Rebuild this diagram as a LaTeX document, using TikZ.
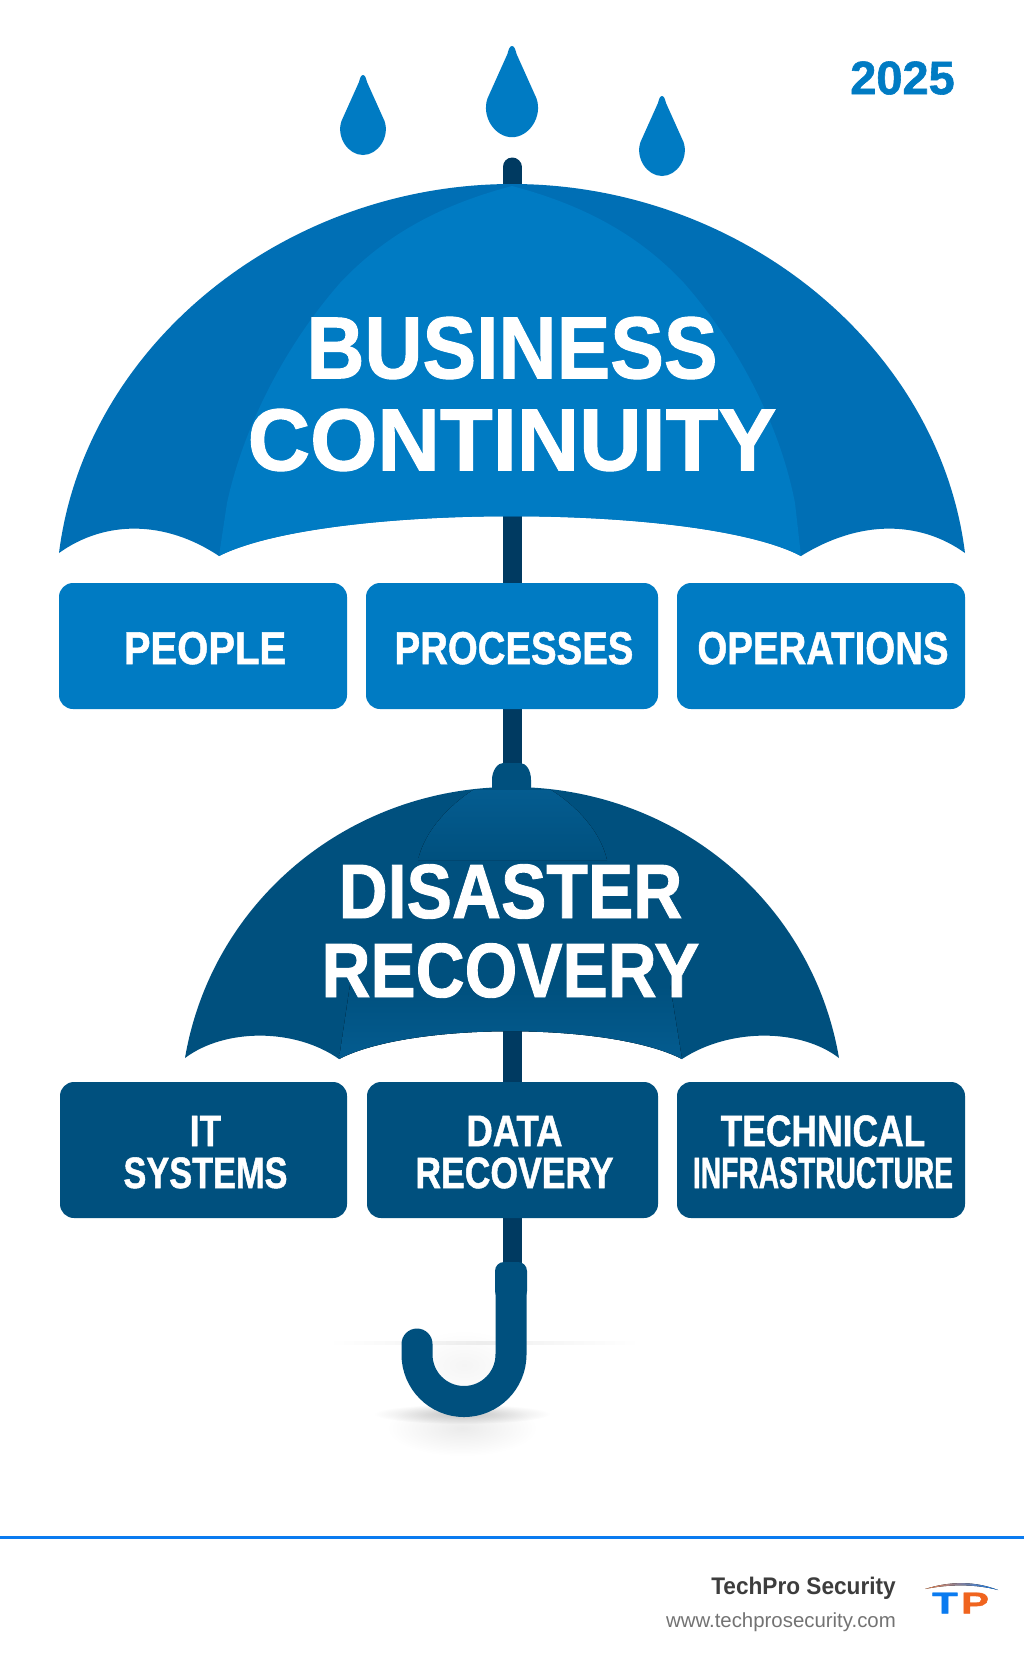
\documentclass[tikz,border=0pt]{standalone}
\usepackage{fontspec}
\usepackage{graphicx}
\usetikzlibrary{fadings}
\setmainfont{Liberation Sans}
\newfontfamily\heavyfont[BoldFeatures={FakeBold=1.2}]{Liberation Sans}
\definecolor{bcside}{HTML}{006FB5}
\definecolor{bcmain}{HTML}{007BC3}
\definecolor{drside}{HTML}{00507E}
\definecolor{drmain}{HTML}{045C90}
\definecolor{shaftblue}{HTML}{003A61}
\definecolor{logoblue}{HTML}{0A7BF0}
\definecolor{logoorange}{HTML}{F0641E}
\newcommand{\squeeze}[2]{\scalebox{#1}[1]{#2}}
\newcommand{\boxline}[2]{\hspace*{4pt}\squeeze{#1}{#2}}
\newcommand{\boxtop}[3]{\rule{0pt}{#1}\boxline{#2}{#3}}
\tikzfading[name=softhaze,inner color=transparent!0,outer color=transparent!100]
\tikzset{
  topbox/.style={draw=none,fill=bcmain,rounded corners=14pt,minimum height=126pt,text=white,
    font=\heavyfont\bfseries\fontsize{46}{42}\selectfont,align=center,inner sep=0pt},
  lowbox/.style={topbox,fill=drside,minimum height=136pt,font=\heavyfont\bfseries\fontsize{44}{42}\selectfont},
  title/.style={text=white,align=center,inner sep=0pt},
  drop/.style={fill=bcmain},
  haze/.style={fill=black,path fading=softhaze}
}
\newcommand{\raindrop}[3]{% tip x, tip y, scale
  \fill[drop,shift={(#1,#2)},scale=#3] (0,0) .. controls (2,0) and (3,3) .. (4,7)
    -- (21.5,46) .. controls (27,62) and (15,80) .. (0,80)
    .. controls (-15,80) and (-27,62) .. (-21.5,46)
    -- (-4,7) .. controls (-3,3) and (-2,0) .. (0,0) -- cycle;}
\begin{document}
\begin{tikzpicture}[x=1pt,y=-1pt]
  \useasboundingbox (0,0) rectangle (1024,1666);
  \fill[white] (0,0) rectangle (1024,1666);

  % rain
  \raindrop{363}{75}{1}
  \raindrop{512}{46}{1.14}
  \raindrop{662}{96}{1}
  \node[inner sep=0pt,text=bcmain,font=\heavyfont\bfseries\fontsize{47}{47}\selectfont] (year) at (902.5,78) {2025};

  % shaft
  \coordinate (shafttop) at (512,157);
  \coordinate (shaftend) at (512,1290);
  \draw[shaftblue,line width=19pt,line cap=round] (512,167) -- (512,190);
  \draw[shaftblue,line width=19pt] (512,190) -- (shaftend);

  % big canopy
  \fill[bcside] (59,553) .. controls (85,345) and (285,184) .. (512,184)
    .. controls (739,184) and (939,345) .. (965,553)
    .. controls (919,520) and (859,520) .. (801,556)
    .. controls (700,503) and (324,503) .. (219,556)
    .. controls (165,520) and (105,520) .. (59,553) -- cycle;
  \fill[bcmain] (512,186) .. controls (440,205) and (385,235) .. (340,283)
    .. controls (290,340) and (245,420) .. (227,503) -- (219,556)
    .. controls (324,503) and (700,503) .. (801,556)
    -- (795,503) .. controls (779,420) and (734,340) .. (684,283)
    .. controls (639,235) and (584,205) .. (512,186) -- cycle;
  \node[title,font=\heavyfont\bfseries\fontsize{88}{92}\selectfont] (bc) at (512,394)
    {\squeeze{.914}{BUSINESS}\\\squeeze{.983}{CONTINUITY}};

  % first row
  \node[topbox,minimum width=288pt] (people) at (203,646) {\boxtop{36.5pt}{.87}{PEOPLE}};
  \node[topbox,minimum width=292pt] (processes) at (512,646) {\boxtop{36.5pt}{.834}{PROCESSES}};
  \node[topbox,minimum width=288pt] (operations) at (821,646) {\boxtop{36.5pt}{.835}{OPERATIONS}};

  % small canopy
  \fill[drside] (492,790) -- (492,780) .. controls (492,770) and (498,763) .. (503,763) -- (520,763)
    .. controls (526,763) and (531,770) .. (531,780) -- (531,790) -- cycle;
  \fill[drside] (185,1058) .. controls (212,900) and (350,787) .. (512,787)
    .. controls (674,787) and (812,900) .. (839,1058)
    .. controls (800,1028) and (729,1028) .. (682,1059)
    .. controls (610,1022) and (410,1022) .. (339,1059)
    .. controls (295,1028) and (225,1028) .. (185,1058) -- cycle;
  \fill[top color=drmain,bottom color=drside] (473,790) -- (551,790) .. controls (575,805) and (600,830) .. (607,860)
    -- (418,860) .. controls (425,830) and (450,805) .. (473,790) -- cycle;
  \fill[top color=drside,bottom color=drmain] (350,985) -- (670,985) -- (682,1059)
    .. controls (610,1022) and (410,1022) .. (339,1059) -- cycle;
  \node[title,font=\heavyfont\bfseries\fontsize{77}{79}\selectfont] (dr) at (510.5,931)
    {\squeeze{.883}{DISASTER}\\\squeeze{.88}{RECOVERY}};

  % second row
  \node[lowbox,minimum width=287pt] (it) at (203.5,1150) {\boxtop{34.5pt}{.8}{IT}\\\boxline{.78}{SYSTEMS}};
  \node[lowbox,minimum width=291pt] (data) at (512.5,1150) {\boxtop{34.5pt}{.83}{DATA}\\\boxline{.808}{RECOVERY}};
  \node[lowbox,minimum width=288pt] (infra) at (821,1150) {\boxtop{34.5pt}{.805}{TECHNICAL}\\\boxline{.641}{INFRASTRUCTURE}};

  % ground shadows
  \fill[left color=white,right color=white,middle color=black!6] (328,1341) rectangle (640,1344);
  \fill[haze,opacity=.04] (464,1365) ellipse (60 and 35);
  \fill[haze,opacity=.2] (462,1414) ellipse (88 and 10);
  \fill[haze,opacity=.08] (462,1428) ellipse (75 and 28);

  % handle
  \draw[drside,line width=31pt,line cap=round] (417,1344) -- (417,1354.5)
    arc[start angle=180,end angle=0,x radius=47,y radius=47] -- (511,1290);
  \fill[drside,rounded corners=9pt] (495,1300) -- (495,1262) -- (527,1262) -- (527,1300) -- cycle;

  % footer
  \draw[logoblue,line width=3pt] (0,1537) -- (1024,1537);
  \node[anchor=base east,inner sep=0pt,text=black!76,font=\bfseries\fontsize{24}{24}\selectfont] (brand) at (896,1594) {\squeeze{.943}{TechPro Security}};
  \node[anchor=base east,inner sep=0pt,text=black!55,font=\fontsize{20.4}{21}\selectfont] (url) at (896,1627) {www.techprosecurity.com};

  % logo
  \fill[left color=logoorange!80!white,right color=logoblue] (925,1589) .. controls (950,1581) and (975,1581) .. (998,1590) .. controls (975,1584) and (950,1584) .. (925,1589) -- cycle;
  \node[inner sep=0pt,text=logoblue,font=\heavyfont\bfseries\fontsize{30}{30}\selectfont] (logot) at (945,1603) {\scalebox{1.4}[1]{T}};
  \node[inner sep=0pt,text=logoorange,font=\heavyfont\bfseries\fontsize{30}{30}\selectfont] (logop) at (975,1603) {\scalebox{1.4}[1]{P}};
\end{tikzpicture}
\end{document}
